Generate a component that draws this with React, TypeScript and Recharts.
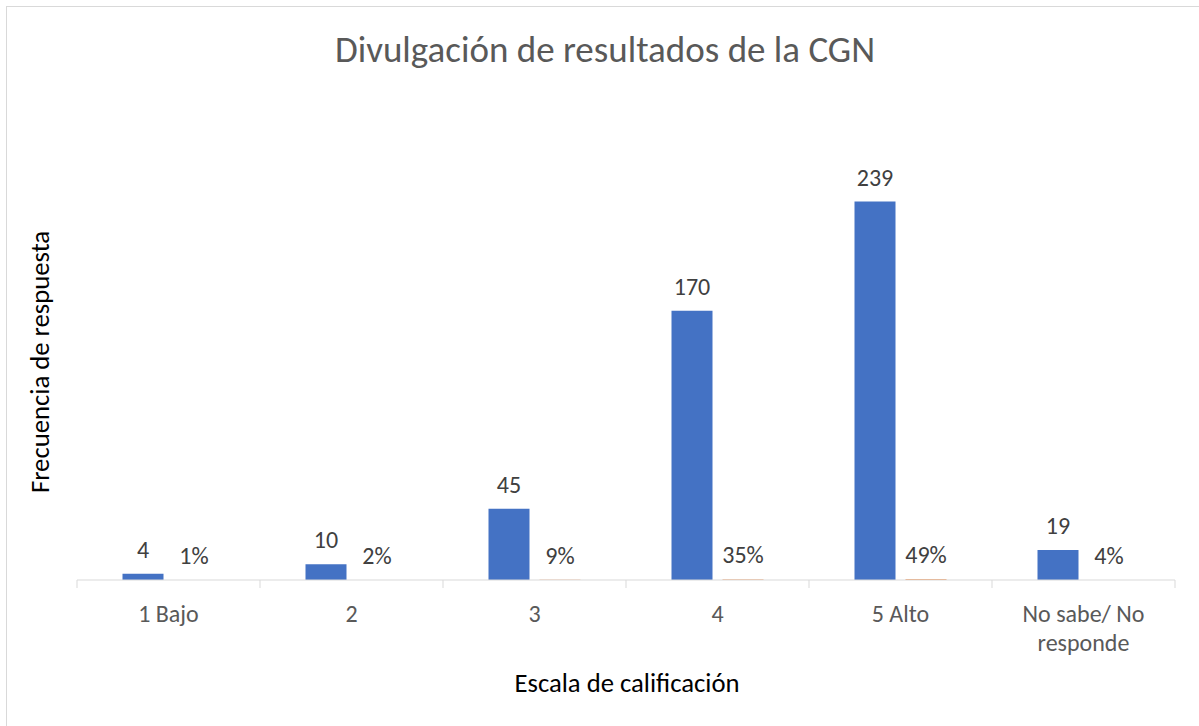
import { BarChart, Bar, XAxis, YAxis, LabelList } from 'recharts'

const categories = ['1 Bajo', '2', '3', '4', '5 Alto', 'No sabe/ No responde']
const frecuencia = [4, 10, 45, 170, 239, 19]
const porcentaje = [0.01, 0.02, 0.09, 0.35, 0.49, 0.04]

const data = categories.map((name, i) => ({
  name,
  frecuencia: frecuencia[i],
  porcentaje: porcentaje[i],
}))

const FONT = 'Calibri, Carlito, Lato, sans-serif'
const W = 1199
const H = 726
const M = { top: 105, right: 24, bottom: 36, left: 77 }
const BAND = (W - M.left - M.right) / categories.length

// tick marks sit on category boundaries, like Excel
const CategoryTick = ({ x, y, payload, index }: any) => {
  const lines = payload.value === 'No sabe/ No responde' ? ['No sabe/ No', 'responde'] : [payload.value]
  const left = x - BAND / 2
  return (
    <g>
      <line x1={left} x2={left} y1={y - 8} y2={y} stroke="#d9d9d9" />
      {index === categories.length - 1 && (
        <line x1={left + BAND} x2={left + BAND} y1={y - 8} y2={y} stroke="#d9d9d9" />
      )}
      {lines.map((l: string, i: number) => (
        <text key={i} x={x} y={y + 34 + i * 29} textAnchor="middle" fontSize={24} fill="#595959" fontFamily={FONT}>
          {l}
        </text>
      ))}
    </g>
  )
}

export default function App() {
  return (
    <div style={{ position: 'absolute', left: 0, top: 0, width: W, height: H, background: '#fff', overflow: 'hidden' }}>
      <div style={{ position: 'absolute', left: 6, top: 6, width: W, height: H, borderTop: '1px solid #d9d9d9', borderLeft: '1px solid #d9d9d9' }} />
      <div style={{ position: 'absolute', top: 27, left: 0, width: 1210, textAlign: 'center', fontFamily: FONT, fontSize: 37, color: '#595959', lineHeight: '46px' }}>
        Divulgación de resultados de la CGN
      </div>
      <BarChart width={W} height={H} data={data} margin={M} barGap={10} barCategoryGap={45.5} style={{ position: 'absolute', left: 0, top: 0 }}>
        <XAxis dataKey="name" height={110} stroke="#d9d9d9" tickLine={false} interval={0} tick={<CategoryTick />} />
        <YAxis hide domain={[0, 300]} />
        <Bar dataKey="frecuencia" fill="#4472c4" isAnimationActive={false}>
          <LabelList dataKey="frecuencia" position="top" offset={16} fontSize={24} fill="#404040" fontFamily={FONT} />
        </Bar>
        <Bar dataKey="porcentaje" fill="#ed7d31" isAnimationActive={false}>
          <LabelList
            dataKey="porcentaje"
            position="top"
            offset={16}
            fontSize={24}
            fill="#404040"
            fontFamily={FONT}
            formatter={(v: any) => `${Math.round(Number(v) * 100)}%`}
          />
        </Bar>
      </BarChart>
      <div style={{ position: 'absolute', left: 0, top: 683, width: 1254, textAlign: 'center', fontFamily: FONT, fontSize: 26.7, color: '#000', transform: 'translateY(-50%)' }}>
        Escala de calificación
      </div>
      <div
        style={{
          position: 'absolute',
          left: 40,
          top: 362,
          transform: 'translate(-50%, -50%) rotate(-90deg)',
          whiteSpace: 'nowrap',
          fontFamily: FONT,
          fontSize: 26.7,
          color: '#000',
        }}
      >
        Frecuencia de respuesta
      </div>
    </div>
  )
}
